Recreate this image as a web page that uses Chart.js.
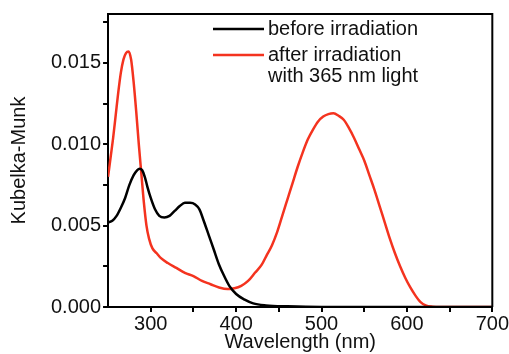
<!DOCTYPE html>
<html>
<head>
<meta charset="utf-8">
<script src="https://cdn.jsdelivr.net/npm/chart.js@4"></script>
<style>
  html, body { margin: 0; padding: 0; background: #fff; }
  #wrap { width: 509px; height: 354px; }
</style>
</head>
<body>
<div id="wrap"><canvas id="kmChart" width="509" height="354"></canvas></div>
<script>
// before irradiation (black)
const beforeNm = [250, 255, 260, 265, 270, 275, 280, 284, 287, 290, 293, 296, 300, 305, 310, 316, 322, 328, 334, 340, 346, 352, 357, 362, 368, 374, 380, 386, 392, 400, 410, 420, 435, 460, 500, 700];
const beforeKM = [0.0052, 0.0053, 0.0056, 0.0061, 0.0067, 0.0075, 0.0081, 0.0084, 0.0085, 0.0084, 0.0080, 0.0074, 0.0067, 0.0060, 0.0056, 0.0055, 0.0056, 0.0059, 0.0062, 0.0064, 0.0064, 0.0063, 0.0060, 0.0053, 0.0044, 0.0035, 0.0026, 0.0019, 0.0013, 0.0008, 0.00045, 0.00022, 0.0001, 0.00004, 0, 0];

// after irradiation with 365 nm light (red)
const afterNm = [250, 253, 256, 259, 262, 265, 268, 271, 274, 277, 280, 283, 286, 289, 292, 295, 298, 302, 307, 312, 320, 330, 340, 350, 360, 370, 380, 390, 398, 406, 414, 422, 430, 436, 442, 448, 454, 460, 466, 472, 478, 484, 490, 496, 502, 508, 514, 520, 526, 532, 538, 544, 550, 556, 562, 568, 574, 580, 586, 592, 598, 604, 610, 616, 622, 630, 640, 700];
const afterKM = [0.0080, 0.0092, 0.0104, 0.0118, 0.0132, 0.0144, 0.0152, 0.0156, 0.0157, 0.0152, 0.0138, 0.0120, 0.0100, 0.0082, 0.0064, 0.0050, 0.0042, 0.0036, 0.0033, 0.0030, 0.0027, 0.0024, 0.0021, 0.0019, 0.0016, 0.0014, 0.0012, 0.0011, 0.00115, 0.0013, 0.0016, 0.0021, 0.0026, 0.0032, 0.0038, 0.0046, 0.0056, 0.0066, 0.0076, 0.0086, 0.0095, 0.0103, 0.0109, 0.0114, 0.0117, 0.01185, 0.0119, 0.01175, 0.0115, 0.0110, 0.0104, 0.0097, 0.0090, 0.0081, 0.0072, 0.0062, 0.0052, 0.0042, 0.0033, 0.0025, 0.0018, 0.0012, 0.0007, 0.0003, 0.0001, 0.00002, 0, 0];

const seriesLabels = [['before irradiation'], ['after irradiation', 'with 365 nm light']];

// ticks: major ones get a label, minor ones only a tick mark
const xTicks = [300, 350, 400, 450, 500, 550, 600, 650, 700];
const xTickLabels = ['300', '', '400', '', '500', '', '600', '', '700'];
const yTicks = [0, 0.0025, 0.005, 0.0075, 0.010, 0.0125, 0.015, 0.0175];
const yTickLabels = ['0.000', '', '0.005', '', '0.010', '', '0.015', ''];

const toPoints = (xs, ys) => xs.map((x, i) => ({ x: x, y: ys[i] }));

const FONT = 'Liberation Sans, Arial, sans-serif';

// box around the plot + legend drawn by hand (second label has two lines)
const frameAndLegend = {
    id: 'frameAndLegend',
    afterDraw(chart) {
        const c = chart.ctx;
        const a = chart.chartArea;
        c.save();
        c.strokeStyle = '#000';
        c.lineWidth = 2;
        c.beginPath();
        c.moveTo(a.left, a.top);
        c.lineTo(a.right, a.top);
        c.lineTo(a.right, a.bottom);
        c.stroke();

        c.font = '20px ' + FONT;
        c.textBaseline = 'middle';
        c.textAlign = 'left';
        const rowY = [29, 55];
        chart.data.datasets.forEach((ds, i) => {
            c.strokeStyle = ds.borderColor;
            c.lineWidth = 2.5;
            c.beginPath();
            c.moveTo(213, rowY[i]);
            c.lineTo(264, rowY[i]);
            c.stroke();
            c.fillStyle = '#111';
            ds.label.forEach((line, j) => {
                c.fillText(line, 268, rowY[i] + j * 21);
            });
        });
        c.restore();
    }
};

new Chart(document.getElementById('kmChart'), {
    type: 'line',
    data: {
        datasets: [{
            label: seriesLabels[0],
            data: toPoints(beforeNm, beforeKM),
            borderColor: '#000000',
            borderWidth: 2.5,
            pointRadius: 0,
            cubicInterpolationMode: 'monotone',
            fill: false
        }, {
            label: seriesLabels[1],
            data: toPoints(afterNm, afterKM),
            borderColor: '#f4331f',
            borderWidth: 2.5,
            pointRadius: 0,
            cubicInterpolationMode: 'monotone',
            fill: false
        }]
    },
    options: {
        responsive: false,
        animation: false,
        layout: { padding: { top: 11, right: 1, left: 7, bottom: 0 } },
        plugins: {
            legend: { display: false },
            tooltip: { enabled: false }
        },
        scales: {
            x: {
                type: 'linear',
                min: 250,
                max: 700,
                afterBuildTicks: (s) => { s.ticks = xTicks.map(v => ({ value: v })); },
                ticks: {
                    color: '#111',
                    font: { family: FONT, size: 20 },
                    padding: 0,
                    maxRotation: 0,
                    autoSkip: false,
                    callback: (v) => xTickLabels[xTicks.indexOf(v)]
                },
                grid: { drawOnChartArea: false, drawTicks: true, tickLength: 5, color: '#000', lineWidth: 2 },
                border: { display: true, color: '#000', width: 2 },
                title: {
                    display: true,
                    text: 'Wavelength (nm)',
                    color: '#111',
                    font: { family: FONT, size: 20 },
                    padding: { top: -6, bottom: 0 }
                }
            },
            y: {
                min: 0,
                max: 0.018,
                afterBuildTicks: (s) => { s.ticks = yTicks.map(v => ({ value: v })); },
                ticks: {
                    color: '#111',
                    font: { family: FONT, size: 20 },
                    padding: 2,
                    autoSkip: false,
                    callback: (v) => yTickLabels[yTicks.indexOf(v)]
                },
                grid: { drawOnChartArea: false, drawTicks: true, tickLength: 5, color: '#000', lineWidth: 2 },
                border: { display: true, color: '#000', width: 2 },
                title: {
                    display: true,
                    text: 'Kubelka-Munk',
                    color: '#111',
                    font: { family: FONT, size: 20 },
                    padding: { top: 0, bottom: 18 }
                }
            }
        }
    },
    plugins: [frameAndLegend]
});
</script>
</body>
</html>
